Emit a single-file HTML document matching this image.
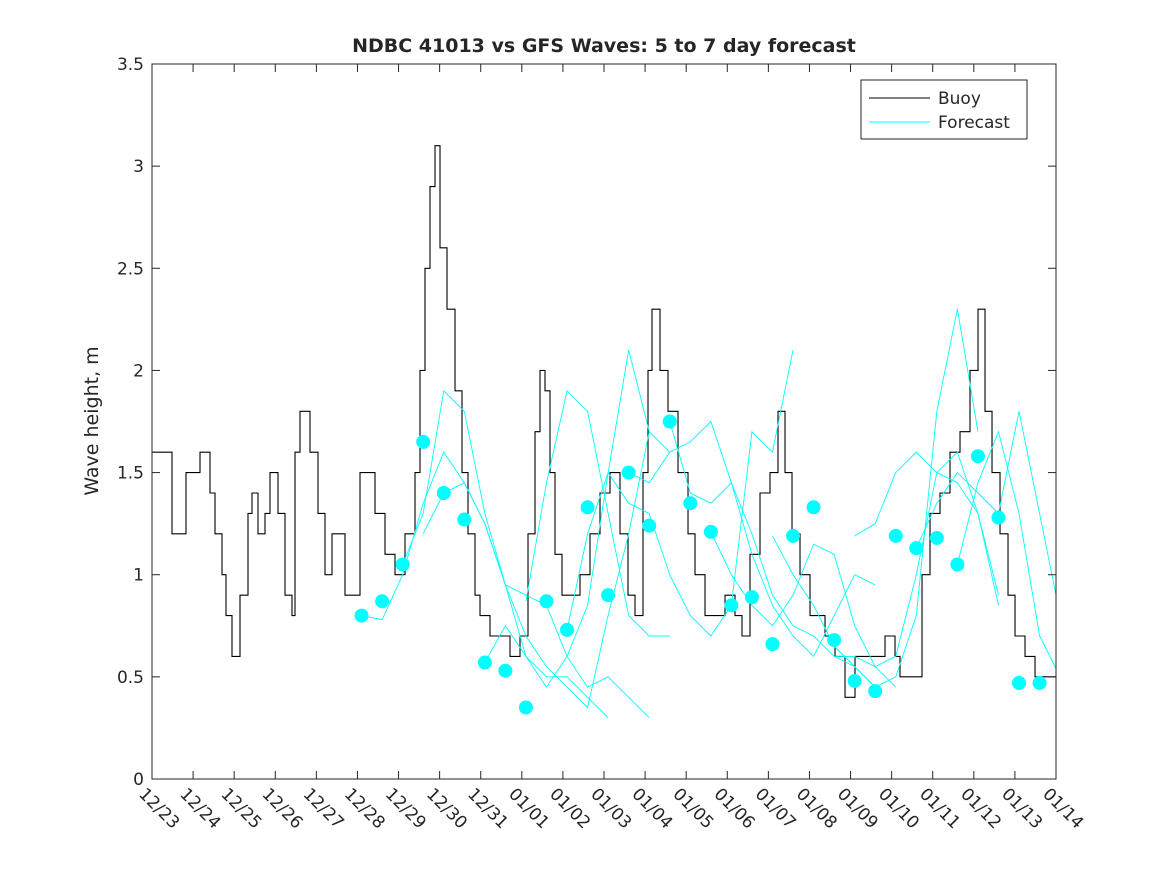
<!DOCTYPE html>
<html><head><meta charset="utf-8"><style>
body{margin:0;background:#fff;}
svg text{font-family:"DejaVu Sans","Liberation Sans",sans-serif;fill:#262626;}
</style></head><body>
<svg id="chart" width="1167" height="875">
<rect x="0" y="0" width="1167" height="875" fill="#fff"/>
<text x="604" y="52" text-anchor="middle" font-size="19" font-weight="bold" fill="#000">NDBC 41013 vs GFS Waves: 5 to 7 day forecast</text>
<g id="plot"></g>
<text transform="translate(98,421) rotate(-90)" text-anchor="middle" font-size="19">Wave height, m</text>
</svg>
<script>
const xTickLabels=["12/23","12/24","12/25","12/26","12/27","12/28","12/29","12/30","12/31","01/01","01/02","01/03","01/04","01/05","01/06","01/07","01/08","01/09","01/10","01/11","01/12","01/13","01/14"];
const yTicks=[0,0.5,1,1.5,2,2.5,3,3.5];
const buoyPx=[152,172,186,200,210,215,222,226,232,240,248,252,258,265,270,278,285,292,295,300,310,318,325,332,345,352,360,368,375,385,395,405,415,420,425,430,435,440,447,455,462,468,475,480,490,500,510,520,528,535,540,545,550,555,562,570,580,590,600,610,620,628,635,640,643,648,652,660,668,678,688,695,705,715,725,735,742,750,760,770,778,785,792,800,810,825,835,845,855,870,885,895,900,915,922,930,940,950,960,970,978,985,992,1000,1008,1015,1025,1035,1056];
const buoyDays=buoyPx.map(p=>(p-152)/41.09);
const buoyVals=[1.6,1.2,1.5,1.6,1.4,1.2,1.0,0.8,0.6,0.9,1.3,1.4,1.2,1.3,1.5,1.3,0.9,0.8,1.6,1.8,1.6,1.3,1.0,1.2,0.9,0.9,1.5,1.5,1.3,1.1,1.0,1.2,1.5,2.0,2.5,2.9,3.1,2.6,2.3,1.9,1.5,1.2,0.9,0.8,0.7,0.7,0.6,0.7,1.2,1.7,2.0,1.9,1.5,1.1,0.9,0.9,1.0,1.2,1.4,1.5,1.2,0.9,0.8,0.8,1.5,2.0,2.3,2.0,1.8,1.5,1.2,1.0,0.8,0.8,0.9,0.8,0.7,1.1,1.4,1.5,1.8,1.5,1.2,1.0,0.8,0.7,0.6,0.4,0.6,0.6,0.7,0.6,0.5,0.5,1.0,1.3,1.4,1.6,1.7,2.0,2.3,1.8,1.5,1.2,0.9,0.7,0.6,0.5,0.5];
const dotVals=[0.8,0.87,1.05,1.65,1.4,1.27,0.57,0.53,0.35,0.87,0.73,1.33,0.9,1.5,1.24,1.75,1.35,1.21,0.85,0.89,0.66,1.19,1.33,0.68,0.48,0.43,1.19,1.13,1.18,1.05,1.58,1.28,0.47,0.47];
const fcStarts=[5.1,6.1,6.6,8.1,9.1,10.1,11.6,12.6,13.6,15.1,16.6,17.1,18.6,19.6];
const fcVals=[
[0.8,0.78,1.0,1.35,1.6,1.45,1.25,0.95,0.6,0.5,0.5,0.4,0.3],
[1.05,1.3,1.9,1.8,1.3,0.95,0.9,0.85,0.6,0.45,0.5,0.4,0.3],
[1.2,1.4,1.45,1.25,0.95,0.7,0.55,0.45,0.35,0.8,1.2,1.7],
[0.57,0.75,0.6,0.45,0.6,0.85,1.5,2.1,1.7,1.6],
[0.87,1.45,1.9,1.8,1.3,0.8,0.7,0.7],
[0.73,1.2,1.5,1.35,1.3,1.0,0.8,0.7,0.85,1.7,1.6,2.1],
[1.5,1.45,1.6,1.65,1.75,1.45,1.1,0.85,0.7,0.6,0.8,1.0,0.95],
[1.75,1.4,1.35,1.45,1.2,0.9,0.75,0.7,0.6,0.55,0.45],
[1.21,1.0,0.85,0.75,0.9,1.15,1.1,0.75,0.55,0.45],
[1.19,1.0,0.85,0.65,0.55,0.45,0.5,0.8,1.8,2.3,1.7],
[0.6,0.6,0.55,0.6,1.0,1.5,1.6,1.3,0.9],
[1.19,1.25,1.5,1.6,1.5,1.45,1.3,0.85],
[1.13,1.35,1.5,1.4,1.3,1.8,1.3,0.8,0.65,0.75],
[1.05,1.45,1.7,1.3,0.7,0.5,0.45,0.43,0.45]];
const X0=152,X1=1056,Y0=779,Y1=64;
const xs=d=>X0+(X1-X0)*d/22;
const ys=v=>Y0-(Y0-Y1)*v/3.5;
const NS="http://www.w3.org/2000/svg";
const g=document.getElementById('plot');
function mk(t,a){const e=document.createElementNS(NS,t);for(const k in a)e.setAttribute(k,a[k]);g.appendChild(e);return e;}
const clip=document.createElementNS(NS,'clipPath');clip.id='pc';const cr=document.createElementNS(NS,'rect');
cr.setAttribute('x',X0);cr.setAttribute('y',Y1);cr.setAttribute('width',X1-X0);cr.setAttribute('height',Y0-Y1);clip.appendChild(cr);g.appendChild(clip);
let d='';
buoyDays.forEach((dd,i)=>{const x=xs(dd),y=ys(buoyVals[i]);if(i===0)d+=`M${x},${y}`;else d+=`H${x}V${y}`;});
let bl=mk('path',{d:d,fill:'none',stroke:'#000','stroke-width':1.1,'clip-path':'url(#pc)'});


fcVals.forEach((vals,j)=>{
 const pts=vals.map((v,i)=>xs(fcStarts[j]+0.5*i)+','+ys(v)).join(' ');
 const l=mk('polyline',{points:pts,fill:'none',stroke:'#00ffff','stroke-width':0.9,'clip-path':'url(#pc)'});
 
 
});
dotVals.forEach((v,i)=>{
 const c=mk('circle',{cx:xs(5.1+0.5*i),cy:ys(v),r:7,fill:'#00ffff'});
 
 
});
const fr=mk('rect',{x:X0,y:Y1,width:X1-X0,height:Y0-Y1,fill:'none',stroke:'#262626','stroke-width':1});


yTicks.forEach(v=>{
 const y=ys(v);
 mk('line',{x1:X0,x2:X0+8,y1:y,y2:y,stroke:'#262626'});
 mk('line',{x1:X1,x2:X1-8,y1:y,y2:y,stroke:'#262626'});
 const t=mk('text',{x:X0-8,y:y+6,'text-anchor':'end','font-size':17});t.textContent=String(v);
 
 
});
xTickLabels.forEach((lab,i)=>{
 const x=xs(i);
 mk('line',{x1:x,x2:x,y1:Y0,y2:Y0-8,stroke:'#262626'});
 mk('line',{x1:x,x2:x,y1:Y1,y2:Y1+8,stroke:'#262626'});
 const t=mk('text',{x:0,y:0,'font-size':17,transform:`translate(${x-14},${Y0+16}) rotate(45)`});t.textContent=lab;
 
 
});
const lg=mk('rect',{x:861,y:80,width:166,height:59,fill:'#fff',stroke:'#262626'});


mk('line',{x1:869,x2:930,y1:98,y2:98,stroke:'#000'});
mk('line',{x1:869,x2:930,y1:122,y2:122,stroke:'#00ffff'});
const t1=mk('text',{x:938,y:104,'font-size':17});t1.textContent='Buoy';


const t2=mk('text',{x:938,y:128,'font-size':17});t2.textContent='Forecast';


</script>
</body></html>
